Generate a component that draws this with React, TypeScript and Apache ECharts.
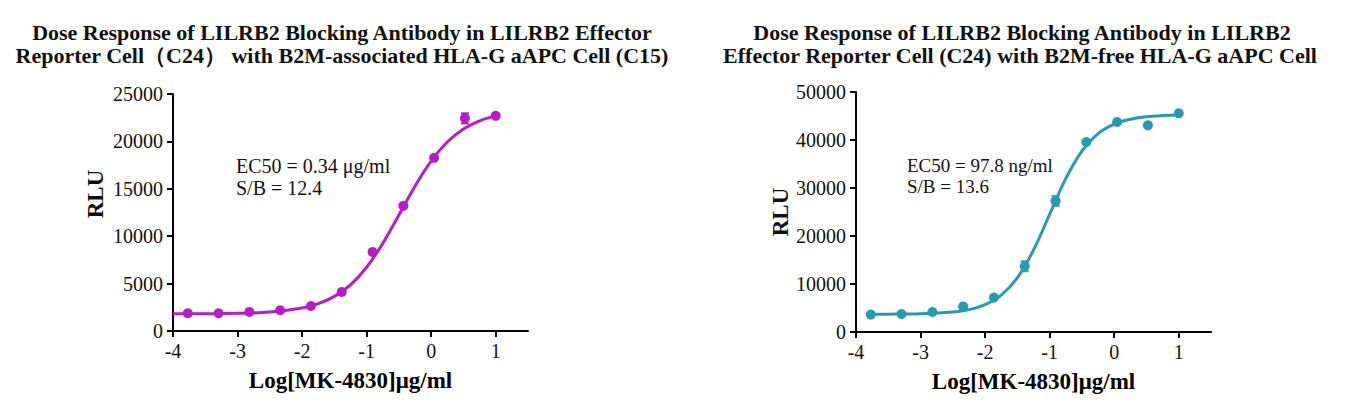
import { useEffect, useRef } from "react";
import * as echarts from "echarts";

// log10 of the dose (µg/ml), 1:3 dilution from 10 µg/ml
const doseLog = [-3.771, -3.294, -2.817, -2.34, -1.863, -1.386, -0.908, -0.431, 0.046, 0.523, 1.0];

// left panel: B2M-associated HLA-G aAPC (C15)
const leftRlu = [1870, 1870, 2010, 2190, 2640, 4120, 8340, 13200, 18270, 22430, 22700];
const leftErr = [0, 0, 0, 0, 0, 0, 0, 0, 0, 530, 0];
const leftFitX = [-4, -3.5, -3, -2.5, -2, -1.75, -1.5, -1.25, -1, -0.75, -0.5, -0.25, 0, 0.25, 0.5, 0.75, 1];
const leftFitY = [1810, 1820, 1860, 2000, 2420, 2880, 3650, 4870, 6720, 9240, 12230, 15280, 17930, 19940, 21310, 22170, 22690];

// right panel: B2M-free HLA-G aAPC
const rightRlu = [3620, 3750, 4170, 5290, 7170, 13690, 27290, 39580, 43750, 43060, 45560];
const rightErr = [0, 0, 0, 0, 0, 1040, 1010, 0, 0, 0, 0];
const rightFitX = [-3.83, -3.5, -3, -2.5, -2.25, -2, -1.75, -1.5, -1.25, -1, -0.75, -0.5, -0.25, 0, 0.25, 0.5, 0.75, 1];
const rightFitY = [3710, 3720, 3800, 4160, 4660, 5690, 7690, 11300, 17080, 24500, 31940, 37690, 41310, 43310, 44340, 44840, 45080, 45200];

const xTickValues = [-4, -3, -2, -1, 0, 1];

const leftTitle = [
  "Dose Response of LILRB2 Blocking Antibody in LILRB2 Effector",
  "Reporter Cell（C24） with B2M-associated HLA-G aAPC Cell (C15)",
];
const rightTitle = [
  "Dose Response of LILRB2 Blocking Antibody in LILRB2",
  "Effector Reporter Cell (C24) with B2M-free HLA-G aAPC Cell",
];
const leftNote = ["EC50 = 0.34 μg/ml", "S/B = 12.4"];
const rightNote = ["EC50 = 97.8 ng/ml", "S/B = 13.6"];

const LEFT_COLOR = "#B41EC4";
const RIGHT_COLOR = "#2899AE";
const FONT = "Liberation Serif";

function errorBarSeries(color: string, idx: number, rlu: number[], err: number[]) {
  return {
    type: "custom",
    xAxisIndex: idx,
    yAxisIndex: idx,
    z: 3,
    data: doseLog.map((x, i) => [x, rlu[i], err[i]]).filter((d) => d[2] > 0),
    renderItem: (_params: any, api: any) => {
      const x = api.value(0);
      const y = api.value(1);
      const e = api.value(2);
      const top = api.coord([x, y + e]);
      const bot = api.coord([x, y - e]);
      const w = 4;
      const style = { stroke: color, lineWidth: 2 };
      return {
        type: "group",
        children: [
          { type: "line", shape: { x1: top[0], y1: top[1], x2: bot[0], y2: bot[1] }, style },
          { type: "line", shape: { x1: top[0] - w, y1: top[1], x2: top[0] + w, y2: top[1] }, style },
          { type: "line", shape: { x1: bot[0] - w, y1: bot[1], x2: bot[0] + w, y2: bot[1] }, style },
        ],
      };
    },
  };
}

// tick labels go through rich text so the serif face sticks
const tickRich = {
  t: { fontFamily: FONT, fontSize: 20, fontWeight: "normal", color: "#111" },
};

function xAxis(idx: number) {
  return {
    type: "value",
    gridIndex: idx,
    min: -4,
    max: 1.5,
    interval: 1,
    name: "Log[MK-4830]μg/ml",
    nameLocation: "middle",
    nameGap: 38,
    nameTextStyle: { fontFamily: FONT, fontWeight: "bold", fontSize: 23, color: "#000" },
    axisLine: { onZero: false, lineStyle: { color: "#000", width: 2 } },
    axisTick: { length: 6, customValues: xTickValues, lineStyle: { color: "#000", width: 2 } },
    axisLabel: {
      customValues: xTickValues,
      margin: 10,
      fontFamily: FONT,
      fontSize: 20,
      formatter: (v: number) => `{t|${v}}`,
      rich: tickRich,
    },
    splitLine: { show: false },
  };
}

function yAxis(idx: number, max: number, interval: number) {
  return {
    type: "value",
    gridIndex: idx,
    min: 0,
    max,
    interval,
    axisLine: { show: true, onZero: false, lineStyle: { color: "#000", width: 2 } },
    axisTick: { show: true, length: 6, lineStyle: { color: "#000", width: 2 } },
    axisLabel: {
      margin: 10,
      fontFamily: FONT,
      fontSize: 20,
      formatter: (v: number) => `{t|${v}}`,
      rich: tickRich,
    },
    splitLine: { show: false },
  };
}

function text(t: string, x: number, y: number, size: number, bold: boolean, align = "left", rotation = 0) {
  return {
    type: "text",
    x,
    y,
    rotation,
    silent: true,
    style: {
      text: t,
      fill: "#111",
      fontFamily: FONT,
      fontSize: size,
      fontWeight: bold ? "bold" : "normal",
      align,
      verticalAlign: "middle",
    },
  };
}

export default function App() {
  const ref = useRef<HTMLDivElement>(null);

  useEffect(() => {
    if (!ref.current) return;
    const chart = echarts.init(ref.current, undefined, { renderer: "svg" });

    const option: any = {
      animation: false,
      backgroundColor: "#fff",
      textStyle: { fontFamily: FONT, fontSize: 20, color: "#111" },
      grid: [
        { left: 173, top: 94, width: 355, height: 237 },
        { left: 856, top: 92, width: 355, height: 240 },
      ],
      xAxis: [xAxis(0), xAxis(1)],
      yAxis: [yAxis(0, 25000, 5000), yAxis(1, 50000, 10000)],
      graphic: [
        text(leftTitle[0], 342, 32, 22, true, "center"),
        text(leftTitle[1], 342, 55, 22, true, "center"),
        text(rightTitle[0], 1022, 32, 22, true, "center"),
        text(rightTitle[1], 1020, 55, 22, true, "center"),
        text("RLU", 95, 194, 23, true, "center", Math.PI / 2),
        text("RLU", 780, 212, 23, true, "center", Math.PI / 2),
        text(leftNote[0], 236, 166, 20, false),
        text(leftNote[1], 236, 188, 20, false),
        text(rightNote[0], 907, 165, 19, false),
        text(rightNote[1], 907, 186, 19, false),
      ],
      series: [
        {
          type: "line",
          xAxisIndex: 0,
          yAxisIndex: 0,
          data: leftFitX.map((x, i) => [x, leftFitY[i]]),
          smooth: 0.4,
          showSymbol: false,
          lineStyle: { color: LEFT_COLOR, width: 3 },
          z: 2,
        },
        errorBarSeries(LEFT_COLOR, 0, leftRlu, leftErr),
        {
          type: "scatter",
          xAxisIndex: 0,
          yAxisIndex: 0,
          data: doseLog.map((x, i) => [x, leftRlu[i]]),
          symbolSize: 10,
          itemStyle: { color: LEFT_COLOR, opacity: 1 },
          z: 4,
        },
        {
          type: "line",
          xAxisIndex: 1,
          yAxisIndex: 1,
          data: rightFitX.map((x, i) => [x, rightFitY[i]]),
          smooth: 0.4,
          showSymbol: false,
          lineStyle: { color: RIGHT_COLOR, width: 3 },
          z: 2,
        },
        errorBarSeries(RIGHT_COLOR, 1, rightRlu, rightErr),
        {
          type: "scatter",
          xAxisIndex: 1,
          yAxisIndex: 1,
          data: doseLog.map((x, i) => [x, rightRlu[i]]),
          symbolSize: 10,
          itemStyle: { color: RIGHT_COLOR, opacity: 1 },
          z: 4,
        },
      ],
    };

    chart.setOption(option);
    return () => chart.dispose();
  }, []);

  return (
    <div
      ref={ref}
      style={{ position: "fixed", left: 0, top: 0, width: 1364, height: 412, background: "#fff" }}
    />
  );
}
